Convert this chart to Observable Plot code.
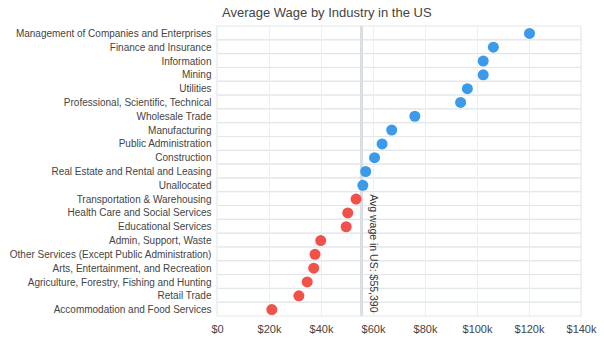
<!DOCTYPE html>
<html>
<head>
<meta charset="utf-8">
<script src="https://cdn.jsdelivr.net/npm/d3@7"></script>
<script src="https://cdn.jsdelivr.net/npm/@observablehq/plot@0.6"></script>
<style>
  html, body { margin: 0; padding: 0; background: #fff; }
  #wrap { width: 604px; height: 342px; position: relative; font-family: "Liberation Sans", Arial, sans-serif; }
  #title { height: 20px; line-height: 20px; padding-left: 222px; font-size: 13px; color: #444; white-space: nowrap; padding-top: 3px; box-sizing: border-box; }
</style>
</head>
<body>
<div id="wrap">
  <div id="title">Average Wage by Industry in the US</div>
  <div id="chart"></div>
</div>
<script>
const industries = [
  "Management of Companies and Enterprises",
  "Finance and Insurance",
  "Information",
  "Mining",
  "Utilities",
  "Professional, Scientific, Technical",
  "Wholesale Trade",
  "Manufacturing",
  "Public Administration",
  "Construction",
  "Real Estate and Rental and Leasing",
  "Unallocated",
  "Transportation & Warehousing",
  "Health Care and Social Services",
  "Educational Services",
  "Admin, Support, Waste",
  "Other Services (Except Public Administration)",
  "Arts, Entertainment, and Recreation",
  "Agriculture, Forestry, Fishing and Hunting",
  "Retail Trade",
  "Accommodation and Food Services"
];
const wages = [
  120000, 106100, 102200, 102200, 96100, 93500, 75900, 67000, 63300, 60400,
  57000, 55900, 53300, 50100, 49500, 39700, 37500, 37000, 34500, 31300, 20900
];
const avgWage = 55390;
const xTicks = [0, 20000, 40000, 60000, 80000, 100000, 120000, 140000];
const xTickLabels = ["$0", "$20k", "$40k", "$60k", "$80k", "$100k", "$120k", "$140k"];
const groups = ["above", "below"];
const groupColors = ["#3b9ae9", "#f2514a"];

const data = industries.map((industry, i) => ({industry, wage: wages[i]}));

const chart = Plot.plot({
  width: 604,
  height: 322,
  marginTop: 6,
  marginBottom: 26,
  marginLeft: 217,
  marginRight: 23,
  style: {fontFamily: "Liberation Sans, Arial, sans-serif", fontSize: "11px", color: "#444", background: "#fff"},
  x: {
    domain: [0, 140000],
    ticks: xTicks,
    tickFormat: d => xTickLabels[xTicks.indexOf(d)],
    label: null
  },
  y: {
    domain: industries,
    padding: 0,
    round: false,
    label: null
  },
  color: {domain: groups, range: groupColors},
  marks: [
    Plot.cell(industries, {y: d => d, fill: "none", stroke: "#e2e6e9", strokeWidth: 1}),
    Plot.ruleX(xTicks, {stroke: "#eceff2", strokeWidth: 1}),
    Plot.axisX({ticks: xTicks, tickFormat: d => xTickLabels[xTicks.indexOf(d)], tickSize: 0, tickPadding: 9, label: null, fill: "#444"}),
    Plot.axisY({tickSize: 0, tickPadding: 6, label: null, fontSize: 11, fill: "#444"}),
    Plot.ruleX([avgWage], {stroke: "#d9dee2", strokeWidth: 3}),
    Plot.text([avgWage], {
      x: d => d,
      frameAnchor: "bottom",
      rotate: 90,
      textAnchor: "end",
      text: d => "Avg wage in US: $" + d3.format(",")(d),
      dx: 8,
      dy: -4,
      fill: "#333",
      fontSize: 10.5
    }),
    Plot.dot(data, {
      x: "wage",
      y: "industry",
      fill: d => d.wage >= avgWage ? "above" : "below",
      r: 5.5,
      stroke: "none"
    })
  ]
});
// condense the industry labels horizontally (reference uses a narrow face)
chart.querySelectorAll('g[aria-label="y-axis tick label"]').forEach(g => {
  const t = g.getAttribute("transform") || "";
  g.setAttribute("transform", "translate(211,0) scale(0.91,1) translate(-211,0) " + t);
});
document.getElementById("chart").appendChild(chart);
</script>
</body>
</html>
